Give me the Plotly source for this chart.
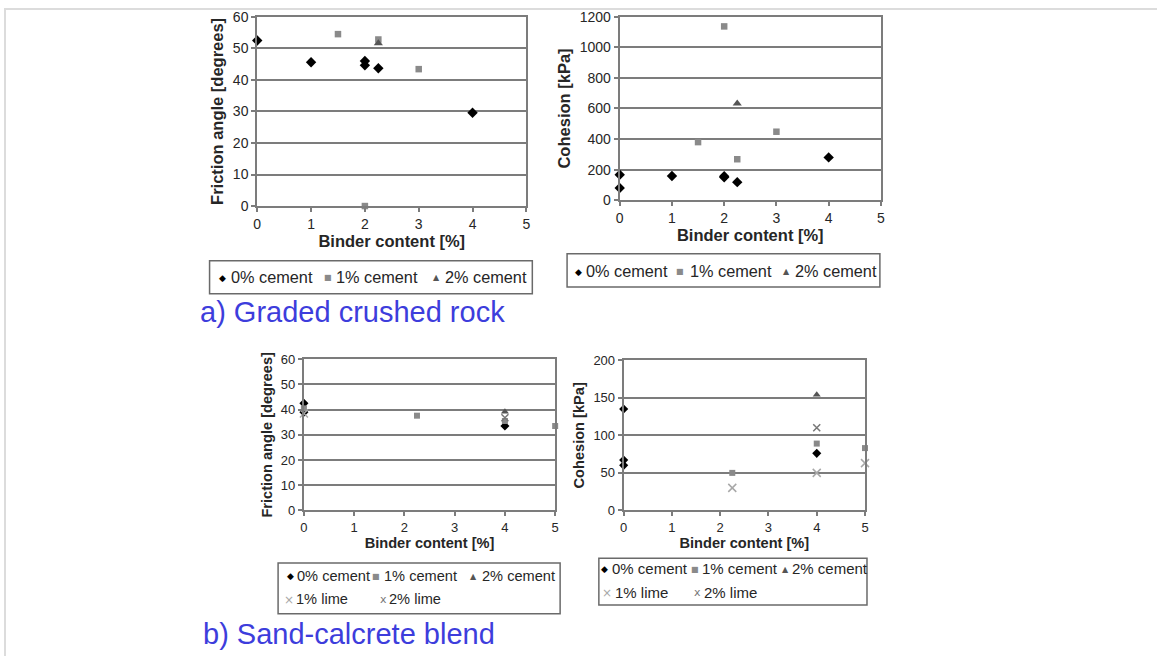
import plotly.graph_objects as go

# target page size; the page keeps the browser's default 8px body margin
W, H = 1165, 664
OFF = 8
FW, FH = W - OFF, H - OFF

# ---------------- data ----------------
# a) Graded crushed rock - friction angle [degrees]
a_phi_c0_x = [0, 1, 2, 2, 2.25, 4]
a_phi_c0_y = [52.5, 45.6, 46, 44.6, 43.7, 29.6]
a_phi_c1_x = [1.5, 2.25, 3, 2]
a_phi_c1_y = [54.5, 52.8, 43.4, 0]
a_phi_c2_x = [2.25]
a_phi_c2_y = [51.6]

# a) Graded crushed rock - cohesion [kPa]
a_coh_c0_x = [0, 0, 1, 2, 2, 2.25, 4]
a_coh_c0_y = [166, 80, 158, 157, 150, 118, 280]
a_coh_c1_x = [2, 1.5, 2.25, 3]
a_coh_c1_y = [1137, 380, 268, 448]
a_coh_c2_x = [2.25]
a_coh_c2_y = [632]

# b) Sand-calcrete blend - friction angle [degrees]
b_phi_c0_x = [0, 0, 4]
b_phi_c0_y = [42.5, 39.0, 33.5]
b_phi_c1_x = [0, 2.25, 4, 5]
b_phi_c1_y = [40.5, 37.6, 35.5, 33.5]
b_phi_c2_x = [4]
b_phi_c2_y = [39.2]
b_phi_l1_x = [0]
b_phi_l1_y = [38.5]
b_phi_l2_x = [4]
b_phi_l2_y = [36.8]

# b) Sand-calcrete blend - cohesion [kPa]
b_coh_c0_x = [0, 0, 0, 4]
b_coh_c0_y = [135, 67, 60, 76]
b_coh_c1_x = [2.25, 4, 5]
b_coh_c1_y = [50, 89, 83]
b_coh_c2_x = [4]
b_coh_c2_y = [154]
b_coh_l1_x = [2.25, 4, 5]
b_coh_l1_y = [30, 50, 63]
b_coh_l2_x = [4]
b_coh_l2_y = [110]

x_title = "Binder content [%]"
phi_title = "Friction angle [degrees]"
coh_title = "Cohesion [kPa]"
legend_cement = ["0% cement", "1% cement", "2% cement"]
legend_lime = ["1% lime", "2% lime"]
caption_a = "a) Graded crushed rock"
caption_b = "b) Sand-calcrete blend"

FONT = "Arial, Liberation Sans, sans-serif"
GRID = "#7c7c7c"
TXT = "#262626"
BLUE = "#3d3ddc"

ST = {
    "c0": dict(symbol="diamond", color="#000000"),
    "c1": dict(symbol="square", color="#8a8a8a"),
    "c2": dict(symbol="triangle-up", color="#555555"),
    "l1": dict(symbol="x-thin", color="#a8a8a8"),
    "l2": dict(symbol="x-thin", color="#777777"),
}


def px_x(p):
    return (p - OFF) / FW


def px_y(p):
    return 1 - (p - OFF) / FH


fig = go.Figure()

panels = [
    ("", (263, 534, 17, 211), 60, 10,
     [("c0", a_phi_c0_x, a_phi_c0_y), ("c1", a_phi_c1_x, a_phi_c1_y), ("c2", a_phi_c2_x, a_phi_c2_y)],
     phi_title, True),
    ("2", (628, 891, 17, 205), 1200, 200,
     [("c0", a_coh_c0_x, a_coh_c0_y), ("c1", a_coh_c1_x, a_coh_c1_y), ("c2", a_coh_c2_x, a_coh_c2_y)],
     coh_title, True),
    ("3", (310, 563, 368, 523), 60, 10,
     [("c0", b_phi_c0_x, b_phi_c0_y), ("c1", b_phi_c1_x, b_phi_c1_y), ("c2", b_phi_c2_x, b_phi_c2_y),
      ("l1", b_phi_l1_x, b_phi_l1_y), ("l2", b_phi_l2_x, b_phi_l2_y)],
     phi_title, False),
    ("4", (632, 875, 369, 523), 200, 50,
     [("c0", b_coh_c0_x, b_coh_c0_y), ("c1", b_coh_c1_x, b_coh_c1_y), ("c2", b_coh_c2_x, b_coh_c2_y),
      ("l1", b_coh_l1_x, b_coh_l1_y), ("l2", b_coh_l2_x, b_coh_l2_y)],
     coh_title, False),
]

layout = dict(
    width=FW, height=FH, margin=dict(l=0, r=0, t=0, b=0),
    paper_bgcolor="white", plot_bgcolor="white", showlegend=False,
    font=dict(family=FONT, color=TXT),
)

for suf, (x0, x1, y0, y1), ymax, dt, series, ytitle, big in panels:
    xa = "x" + suf
    ya = "y" + suf
    tick_size = 14 if big else 13
    title_size = 16.5 if big else 14.6
    msize = {"c0": 8 if big else 7, "c1": 6.5 if big else 6, "c2": 8 if big else 7,
             "l1": 8, "l2": 7}
    for key, xs, ys in series:
        st = ST[key]
        line_w = 1.5 if key in ("l1", "l2") else 0
        fig.add_trace(go.Scatter(
            x=xs, y=ys, mode="markers", xaxis=xa, yaxis=ya, cliponaxis=False,
            marker=dict(symbol=st["symbol"], size=msize[key], color=st["color"],
                        line=dict(color=st["color"], width=line_w)),
            hoverinfo="skip",
        ))
    layout["xaxis" + suf] = dict(
        domain=[px_x(x0), px_x(x1)], anchor=ya, range=[0, 5], dtick=1, tick0=0,
        showgrid=False, zeroline=False, showline=True, mirror=True,
        linecolor=GRID, linewidth=2, ticks="outside", ticklen=4, tickcolor=GRID,
        tickwidth=1.5, tickfont=dict(size=tick_size, color=TXT),
        title=dict(text="<b>%s</b>" % x_title, font=dict(size=title_size, color=TXT), standoff=4),
        fixedrange=True,
    )
    layout["yaxis" + suf] = dict(
        domain=[px_y(y1), px_y(y0)], anchor=xa, range=[0, ymax], dtick=dt, tick0=0,
        showgrid=True, gridcolor=GRID, gridwidth=2, zeroline=False, showline=True,
        mirror=True, linecolor=GRID, linewidth=2, ticks="outside", ticklen=4,
        tickcolor=GRID, tickwidth=1.5, tickfont=dict(size=tick_size, color=TXT),
        title=dict(text="<b>%s</b>" % ytitle, font=dict(size=title_size, color=TXT), standoff=5),
        fixedrange=True,
    )

shapes = []
annotations = []

# page frame (only top and left edges are visible)
shapes.append(dict(type="rect", xref="paper", yref="paper",
                   x0=px_x(9), x1=px_x(W + 30), y0=px_y(H + 30), y1=px_y(9),
                   line=dict(color="#dcdcdc", width=2), fillcolor="rgba(0,0,0,0)"))


def legend_box(x0, x1, y0, y1):
    shapes.append(dict(type="rect", xref="paper", yref="paper",
                       x0=px_x(x0), x1=px_x(x1), y0=px_y(y1), y1=px_y(y0),
                       line=dict(color="#6a6a6a", width=1.5), fillcolor="white"))


SYM = {"c0": ("◆", "#000000", 9), "c1": ("■", "#8a8a8a", 8), "c2": ("▲", "#555555", 8),
       "l1": ("×", "#a8a8a8", 12), "l2": ("x", "#777777", 11)}


def legend_items(y, keys, labels, sym_x, lab_x, size):
    for k, lab, sx, lx in zip(keys, labels, sym_x, lab_x):
        s, c, ss = SYM[k]
        annotations.append(dict(xref="paper", yref="paper", x=px_x(sx), y=px_y(y + 0.5),
                                xanchor="center", yanchor="middle", showarrow=False, text=s,
                                font=dict(size=ss, color=c, family="DejaVu Sans")))
        annotations.append(dict(xref="paper", yref="paper", x=px_x(lx), y=px_y(y),
                                xanchor="left", yanchor="middle", showarrow=False, text=lab,
                                font=dict(size=size, color=TXT, family=FONT)))


cement_keys = ["c0", "c1", "c2"]
lime_keys = ["l1", "l2"]

legend_box(215, 540, 267, 301)
legend_items(284, cement_keys, legend_cement, [228, 334, 444], [235, 340, 450], 16.3)
legend_box(575, 890, 260, 294)
legend_items(278, cement_keys, legend_cement, [586, 689, 796], [592, 697, 802], 16.3)
legend_box(284, 568, 577, 629)
legend_items(590, cement_keys, legend_cement, [296, 383, 481], [301, 389, 487], 14.6)
legend_items(614, lime_keys, legend_lime, [295, 390], [300, 394], 14.6)
legend_box(607, 877, 572, 620)
legend_items(583, cement_keys, legend_cement, [613, 704, 795], [618, 709, 799], 15)
legend_items(607, lime_keys, legend_lime, [615, 706], [621, 711], 15)

annotations.append(dict(xref="paper", yref="paper", x=px_x(203), y=px_y(320),
                        xanchor="left", yanchor="middle", showarrow=False, text=caption_a,
                        font=dict(size=29, color=BLUE, family=FONT)))
annotations.append(dict(xref="paper", yref="paper", x=px_x(206), y=px_y(650),
                        xanchor="left", yanchor="middle", showarrow=False, text=caption_b,
                        font=dict(size=29, color=BLUE, family=FONT)))

layout["shapes"] = shapes
layout["annotations"] = annotations
fig.update_layout(**layout)
fig.write_html("out.html", config={"displayModeBar": False})
